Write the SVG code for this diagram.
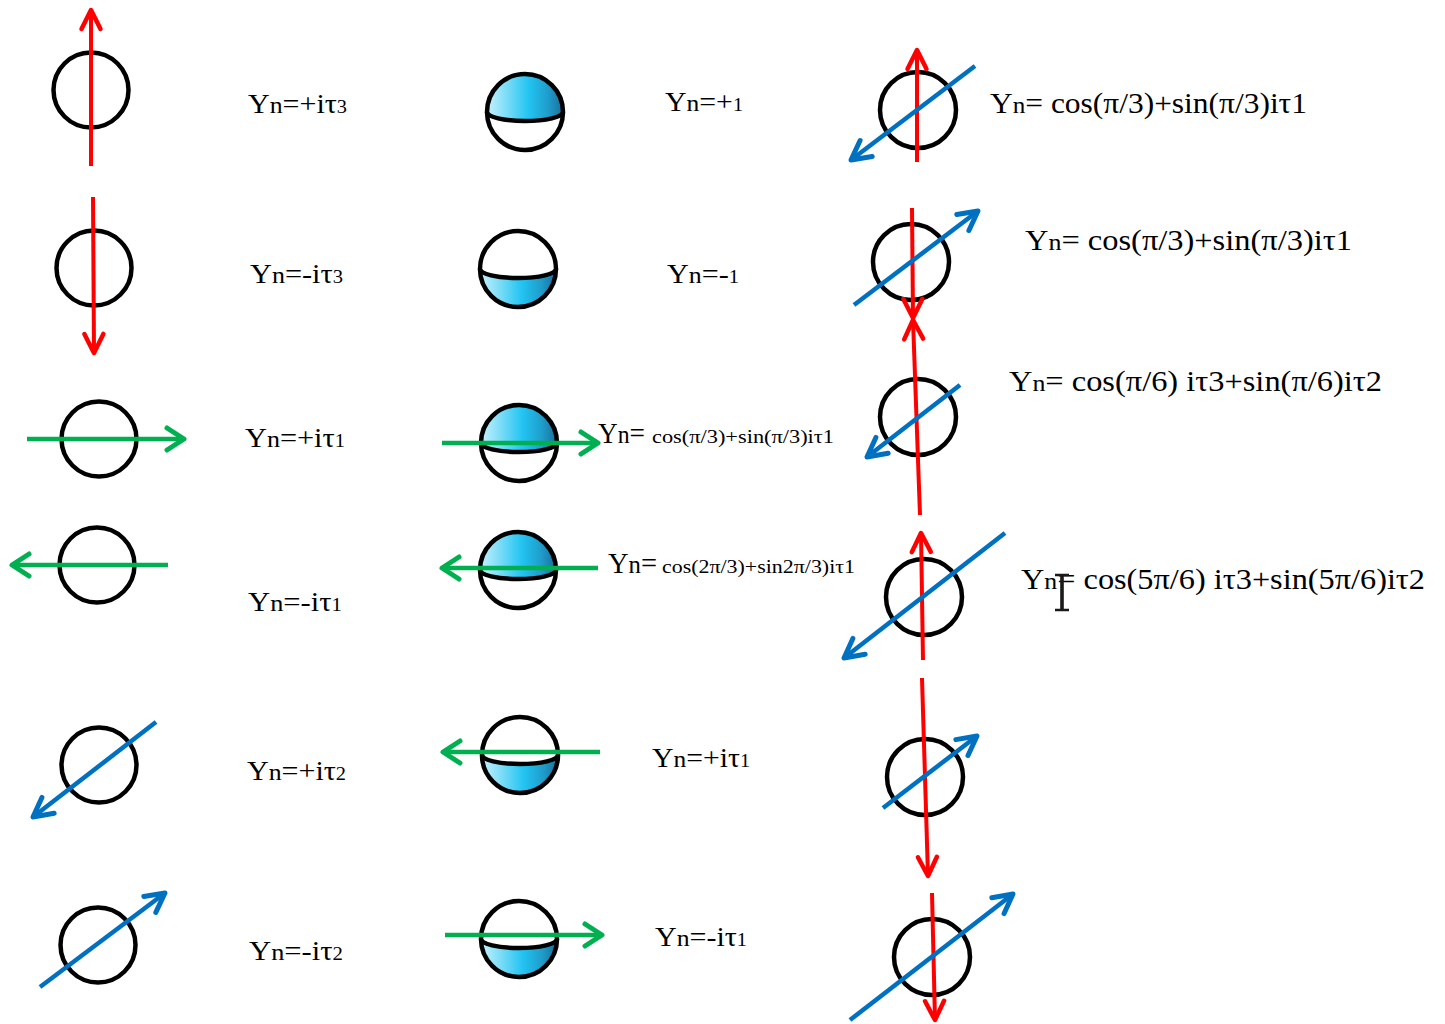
<svg xmlns="http://www.w3.org/2000/svg" width="1445" height="1024" viewBox="0 0 1445 1024">
  <style>
    .ring { fill: none; stroke: #000; stroke-width: 4.5; }
    .cap { fill: url(#shade); stroke: none; }
    .rim { fill: none; stroke: #000; stroke-width: 4.5; }
    .lbl { font-family: "Liberation Serif", "DejaVu Serif", serif; font-size: 28px; fill: #000; }
    .big { font-size: 30px; }
    .sm { font-size: 19px; }
    .red { stroke: #ff0000; stroke-width: 4; fill: none; }
    .grn { stroke: #00b050; stroke-width: 4.5; fill: none; }
    .blu { stroke: #0070c0; stroke-width: 4.5; fill: none; }
    .red.tip { marker-end: url(#hRed); }
    .grn.tip { marker-end: url(#hGrn); }
    .blu.tip { marker-end: url(#hBlu); }
  </style>
  <defs>
    <linearGradient id="shade" x1="0" y1="0" x2="1" y2="0">
      <stop offset="0" stop-color="#c6f1fd"/>
      <stop offset="0.3" stop-color="#6fd9f6"/>
      <stop offset="0.55" stop-color="#22c4f2"/>
      <stop offset="0.8" stop-color="#1f9dcc"/>
      <stop offset="1" stop-color="#1a6f98"/>
    </linearGradient>
    <marker id="hRed" viewBox="-22 -12 26 24" markerWidth="26" markerHeight="24" refX="0" refY="0" orient="auto" markerUnits="userSpaceOnUse" overflow="visible">
      <path d="M-19,-9.5 L0,0 L-19,9.5" fill="none" stroke="#ff0000" stroke-width="4.5" stroke-linecap="round" stroke-linejoin="round"/>
    </marker>
    <marker id="hGrn" viewBox="-22 -12 26 24" markerWidth="26" markerHeight="24" refX="0" refY="0" orient="auto" markerUnits="userSpaceOnUse" overflow="visible">
      <path d="M-17,-11 L0,0 L-17,11" fill="none" stroke="#00b050" stroke-width="5" stroke-linecap="round" stroke-linejoin="round"/>
    </marker>
    <marker id="hBlu" viewBox="-22 -12 26 24" markerWidth="26" markerHeight="24" refX="0" refY="0" orient="auto" markerUnits="userSpaceOnUse" overflow="visible">
      <path d="M-19,-10 L0,0 L-19,10" fill="none" stroke="#0070c0" stroke-width="5" stroke-linecap="round" stroke-linejoin="round"/>
    </marker>
  </defs>

  <rect width="1445" height="1024" fill="#ffffff"/>

  <!-- column 1: plain rings -->
  <g id="ring-c1-1"><circle class="ring" cx="91" cy="90" r="37.5"/></g>
  <g id="ring-c1-2"><circle class="ring" cx="94" cy="268" r="37.5"/></g>
  <g id="ring-c1-3"><circle class="ring" cx="99" cy="439" r="37.5"/></g>
  <g id="ring-c1-4"><circle class="ring" cx="97" cy="565" r="37.5"/></g>
  <g id="ring-c1-5"><circle class="ring" cx="99" cy="765" r="37.5"/></g>
  <g id="ring-c1-6"><circle class="ring" cx="98" cy="945" r="37.5"/></g>

  <!-- column 2: half-shaded spheres (upper cap / lower cap) -->
  <g id="sphere-c2-1">
    <path class="cap" d="M487,112 A38,38 0 0 1 563,112 A38,9 0 0 1 487,112 Z"/>
    <path class="rim" d="M487,112 A38,9 0 0 0 563,112"/>
    <circle class="ring" cx="525" cy="112" r="38"/>
  </g>
  <g id="sphere-c2-2">
    <path class="cap" d="M480,269 A38,9 0 0 0 556,269 A38,38 0 0 1 480,269 Z"/>
    <path class="rim" d="M480,269 A38,9 0 0 0 556,269"/>
    <circle class="ring" cx="518" cy="269" r="38"/>
  </g>
  <g id="sphere-c2-3">
    <path class="cap" d="M481,443 A38,38 0 0 1 557,443 A38,9 0 0 1 481,443 Z"/>
    <path class="rim" d="M481,443 A38,9 0 0 0 557,443"/>
    <circle class="ring" cx="519" cy="443" r="38"/>
  </g>
  <g id="sphere-c2-4">
    <path class="cap" d="M480,570 A38,38 0 0 1 556,570 A38,9 0 0 1 480,570 Z"/>
    <path class="rim" d="M480,570 A38,9 0 0 0 556,570"/>
    <circle class="ring" cx="518" cy="570" r="38"/>
  </g>
  <g id="sphere-c2-5">
    <path class="cap" d="M482,755 A38,9 0 0 0 558,755 A38,38 0 0 1 482,755 Z"/>
    <path class="rim" d="M482,755 A38,9 0 0 0 558,755"/>
    <circle class="ring" cx="520" cy="755" r="38"/>
  </g>
  <g id="sphere-c2-6">
    <path class="cap" d="M481,939 A38,9 0 0 0 557,939 A38,38 0 0 1 481,939 Z"/>
    <path class="rim" d="M481,939 A38,9 0 0 0 557,939"/>
    <circle class="ring" cx="519" cy="939" r="38"/>
  </g>

  <!-- column 3: rings -->
  <g id="ring-c3-1"><circle class="ring" cx="918" cy="110" r="38"/></g>
  <g id="ring-c3-2"><circle class="ring" cx="911" cy="262" r="38"/></g>
  <g id="ring-c3-3"><circle class="ring" cx="918" cy="417" r="38"/></g>
  <g id="ring-c3-4"><circle class="ring" cx="924" cy="597" r="38"/></g>
  <g id="ring-c3-5"><circle class="ring" cx="925" cy="777" r="38"/></g>
  <g id="ring-c3-6"><circle class="ring" cx="932" cy="957" r="38"/></g>

  <!-- arrows -->
  <g id="connectors">
    <!-- column 1 -->
    <line class="red tip" x1="91" y1="166" x2="91" y2="10"/>
    <line class="red tip" x1="93" y1="197" x2="94" y2="353"/>
    <line class="grn tip" x1="27" y1="439" x2="184" y2="439"/>
    <line class="grn tip" x1="168" y1="565" x2="12" y2="565"/>
    <line class="blu tip" x1="156" y1="722" x2="33" y2="817"/>
    <line class="blu tip" x1="40" y1="987" x2="165" y2="893"/>

    <!-- column 2 -->
    <line class="grn tip" x1="442" y1="443" x2="598" y2="443"/>
    <line class="grn tip" x1="598" y1="568" x2="442" y2="568"/>
    <line class="grn tip" x1="600" y1="752" x2="443" y2="752"/>
    <line class="grn tip" x1="445" y1="935" x2="602" y2="935"/>

    <!-- column 3: vertical red chain -->
    <line class="red tip" x1="917" y1="162" x2="917" y2="50"/>
    <line class="red tip" x1="912" y1="208" x2="913" y2="318"/>
    <line class="red tip" x1="920" y1="515" x2="913" y2="320"/>
    <line class="red tip" x1="923" y1="660" x2="921" y2="533"/>
    <line class="red tip" x1="922" y1="678" x2="928" y2="876"/>
    <line class="red tip" x1="932" y1="893" x2="935" y2="1020"/>

    <!-- column 3: diagonal blue -->
    <line class="blu tip" x1="975" y1="66" x2="851" y2="160"/>
    <line class="blu tip" x1="854" y1="305" x2="978" y2="211"/>
    <line class="blu tip" x1="960" y1="385" x2="867" y2="457"/>
    <line class="blu tip" x1="1005" y1="533" x2="844" y2="658"/>
    <line class="blu tip" x1="883" y1="808" x2="977" y2="736"/>
    <line class="blu tip" x1="850" y1="1020" x2="1013" y2="894"/>
  </g>

  <!-- column 1 labels -->
  <g id="lbl-c1-1"><text class="lbl" x="248" y="113" textLength="99" lengthAdjust="spacingAndGlyphs">Y<tspan font-size="24">n</tspan>=+iτ<tspan class="sm">3</tspan></text></g>
  <g id="lbl-c1-2"><text class="lbl" x="250" y="283" textLength="93" lengthAdjust="spacingAndGlyphs">Y<tspan font-size="24">n</tspan>=-iτ<tspan class="sm">3</tspan></text></g>
  <g id="lbl-c1-3"><text class="lbl" x="245" y="447" textLength="100" lengthAdjust="spacingAndGlyphs">Y<tspan font-size="24">n</tspan>=+iτ<tspan class="sm">1</tspan></text></g>
  <g id="lbl-c1-4"><text class="lbl" x="248" y="611" textLength="94" lengthAdjust="spacingAndGlyphs">Y<tspan font-size="24">n</tspan>=-iτ<tspan class="sm">1</tspan></text></g>
  <g id="lbl-c1-5"><text class="lbl" x="247" y="780" textLength="99" lengthAdjust="spacingAndGlyphs">Y<tspan font-size="24">n</tspan>=+iτ<tspan class="sm">2</tspan></text></g>
  <g id="lbl-c1-6"><text class="lbl" x="249" y="960" textLength="94" lengthAdjust="spacingAndGlyphs">Y<tspan font-size="24">n</tspan>=-iτ<tspan class="sm">2</tspan></text></g>

  <!-- column 2 labels -->
  <g id="lbl-c2-1"><text class="lbl" x="665" y="111" textLength="78" lengthAdjust="spacingAndGlyphs">Y<tspan font-size="24">n</tspan>=+<tspan class="sm">1</tspan></text></g>
  <g id="lbl-c2-2"><text class="lbl" x="667" y="283" textLength="72" lengthAdjust="spacingAndGlyphs">Y<tspan font-size="24">n</tspan>=-<tspan class="sm">1</tspan></text></g>
  <g id="lbl-c2-3">
    <text class="lbl big" x="598" y="443" textLength="47" lengthAdjust="spacingAndGlyphs">Y<tspan font-size="26">n</tspan>=</text>
    <text class="lbl sm" x="652" y="443" textLength="182" lengthAdjust="spacingAndGlyphs">cos(π/3)+sin(π/3)iτ1</text>
  </g>
  <g id="lbl-c2-4">
    <text class="lbl big" x="608" y="573" textLength="49" lengthAdjust="spacingAndGlyphs">Y<tspan font-size="26">n</tspan>=</text>
    <text class="lbl sm" x="662" y="573" textLength="193" lengthAdjust="spacingAndGlyphs">cos(2π/3)+sin2π/3)iτ1</text>
  </g>
  <g id="lbl-c2-5"><text class="lbl" x="652" y="767" textLength="98" lengthAdjust="spacingAndGlyphs">Y<tspan font-size="24">n</tspan>=+iτ<tspan class="sm">1</tspan></text></g>
  <g id="lbl-c2-6"><text class="lbl" x="655" y="946" textLength="92" lengthAdjust="spacingAndGlyphs">Y<tspan font-size="24">n</tspan>=-iτ<tspan class="sm">1</tspan></text></g>

  <!-- column 3 labels -->
  <g id="lbl-c3-1"><text class="lbl big" x="990" y="113" textLength="317" lengthAdjust="spacingAndGlyphs">Y<tspan font-size="24">n</tspan>= cos(π/3)+sin(π/3)iτ1</text></g>
  <g id="lbl-c3-2"><text class="lbl big" x="1025" y="250" textLength="327" lengthAdjust="spacingAndGlyphs">Y<tspan font-size="24">n</tspan>= cos(π/3)+sin(π/3)iτ1</text></g>
  <g id="lbl-c3-3"><text class="lbl big" x="1009" y="391" textLength="373" lengthAdjust="spacingAndGlyphs">Y<tspan font-size="24">n</tspan>= cos(π/6) iτ3+sin(π/6)iτ2</text></g>
  <g id="lbl-c3-4">
    <text class="lbl big" x="1021" y="589" textLength="404" lengthAdjust="spacingAndGlyphs">Y<tspan font-size="24">n</tspan>= cos(5π/6) iτ3+sin(5π/6)iτ2</text>
    <!-- text-cursor mark resting over the equals sign -->
    <path d="M1055,575 H1069 M1055,610 H1069" fill="none" stroke="#1a1a1a" stroke-width="2.4"/>
    <path d="M1062,575 V610" fill="none" stroke="#1a1a1a" stroke-width="3.6"/>
  </g>
</svg>
